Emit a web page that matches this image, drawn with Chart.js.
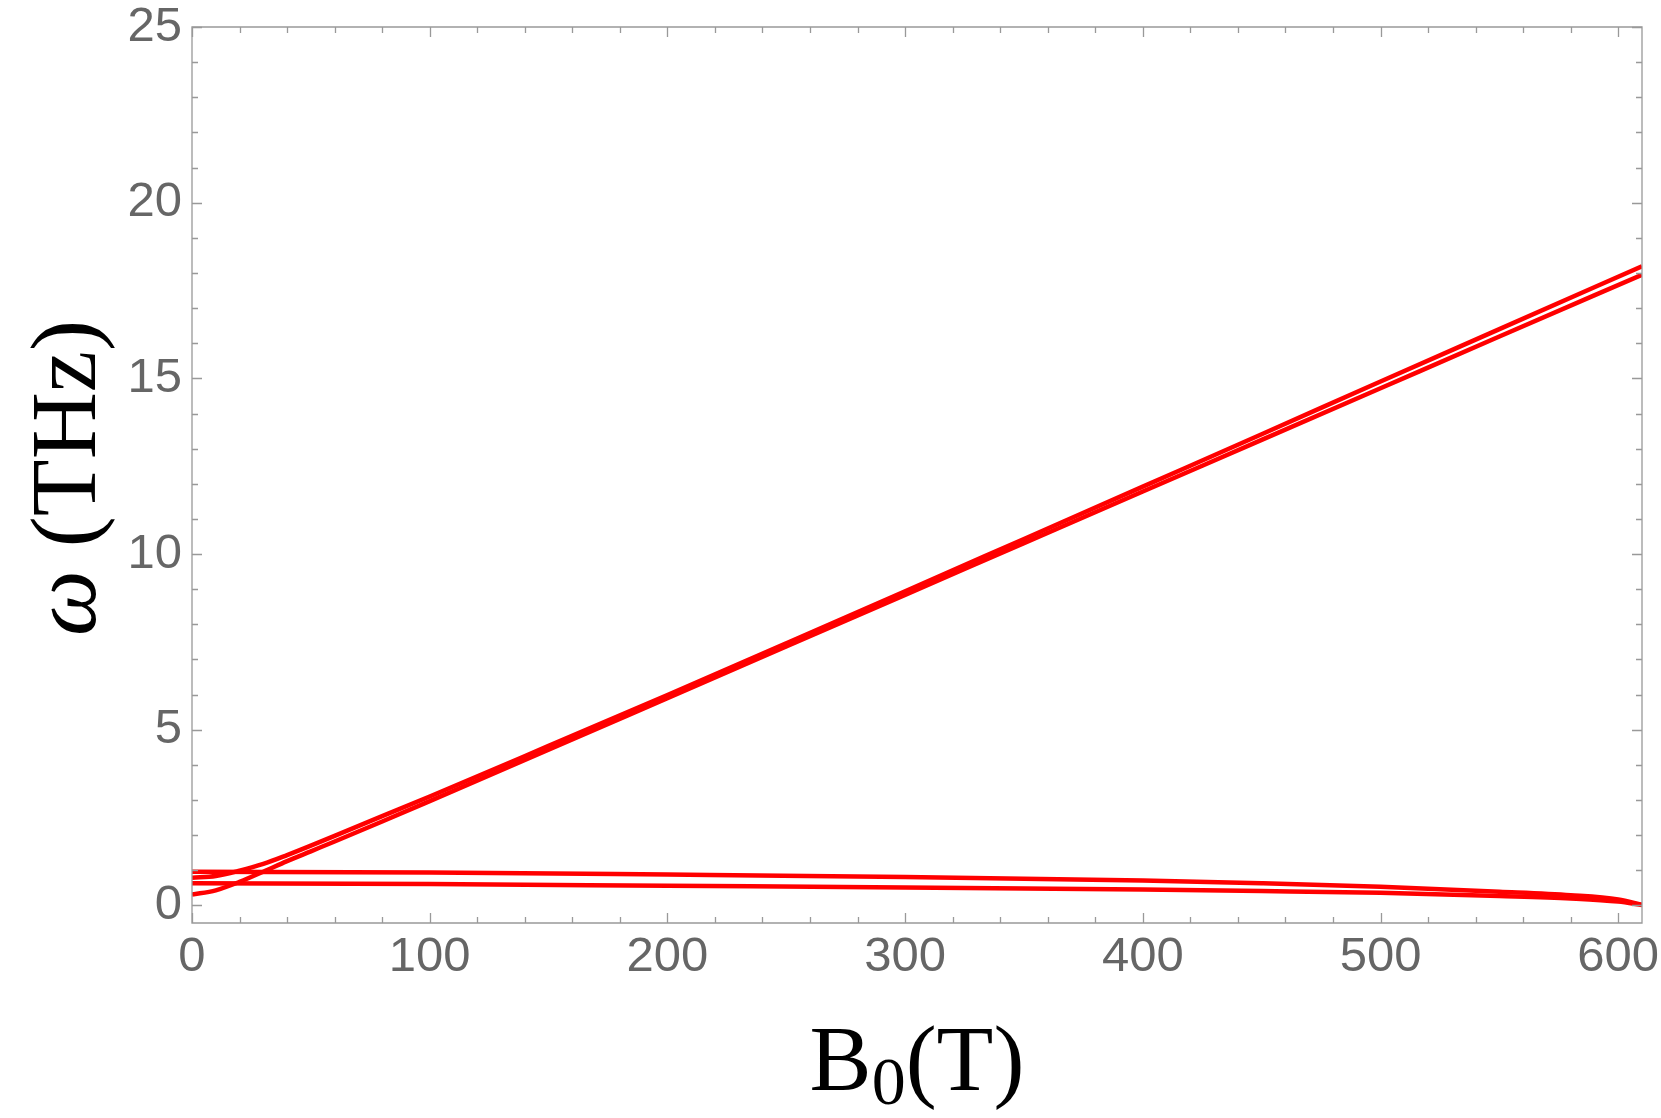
<!DOCTYPE html>
<html>
<head>
<meta charset="utf-8">
<script src="https://cdn.jsdelivr.net/npm/chart.js@4.4.0/dist/chart.umd.min.js"></script>
<style>
  html, body { margin: 0; padding: 0; background: #fff; }
  #wrap { width: 1661px; height: 1118px; }
</style>
</head>
<body>
<div id="wrap"><canvas id="bandChart" width="1661" height="1118"></canvas></div>
<script>
// field values (T) for the two rising branches
const fieldRise = [0, 10, 20, 30, 40, 50, 60, 80, 100, 150, 200, 250, 300, 350, 400, 450, 500, 550, 610];
const upperRise = [0.79, 0.84, 0.99, 1.18, 1.43, 1.70, 1.98, 2.54, 3.10, 4.54, 5.99, 7.46, 8.94, 10.43, 11.92, 13.41, 14.91, 16.40, 18.19];
const lowerRise = [0.31, 0.43, 0.67, 0.96, 1.26, 1.54, 1.82, 2.39, 2.97, 4.43, 5.90, 7.37, 8.84, 10.31, 11.78, 13.25, 14.72, 16.19, 17.95];

// field values (T) for the two flat branches
const fieldFlat = [0, 100, 200, 300, 400, 450, 500, 550, 580, 600, 610];
const upperFlat = [0.96, 0.94, 0.88, 0.81, 0.71, 0.63, 0.53, 0.39, 0.29, 0.17, 0.02];
const lowerFlat = [0.63, 0.61, 0.56, 0.51, 0.45, 0.41, 0.36, 0.27, 0.20, 0.11, 0.01];

// tick labels
const xTicks = [0, 100, 200, 300, 400, 500, 600];
const yTicks = [0, 5, 10, 15, 20, 25];

function pairs(xs, ys) {
    let out = [];
    for (let i in xs) {
        out.push({x: xs[i], y: ys[i]});
    }
    return out;
}

function branch(xs, ys) {
    return {
        data: pairs(xs, ys),
        showLine: true,
        borderColor: '#ff0000',
        borderWidth: 4.5,
        pointRadius: 0,
        cubicInterpolationMode: 'monotone',
        fill: false
    };
}

// frame ticks on all four sides, pointing inwards
const frameTicks = {
    id: 'frameTicks',
    afterDraw(chart) {
        const ctx = chart.ctx;
        const a = chart.chartArea;
        const xs = chart.scales.x;
        const ys = chart.scales.y;
        ctx.save();
        ctx.strokeStyle = '#999';
        ctx.lineWidth = 1.3;
        ctx.beginPath();
        ctx.rect(a.left, a.top, a.right - a.left, a.bottom - a.top);
        ctx.stroke();
        ctx.beginPath();
        for (let v = 0; v <= xs.max; v += 20) {
            const px = Math.round(xs.getPixelForValue(v)) + 0.5;
            const len = (v % 100 === 0) ? 10 : 6;
            ctx.moveTo(px, a.bottom); ctx.lineTo(px, a.bottom - len);
            ctx.moveTo(px, a.top); ctx.lineTo(px, a.top + len);
        }
        for (let v = 0; v <= ys.max; v += 1) {
            const py = Math.round(ys.getPixelForValue(v)) + 0.5;
            const len = (v % 5 === 0) ? 10 : 6;
            ctx.moveTo(a.left, py); ctx.lineTo(a.left + len, py);
            ctx.moveTo(a.right, py); ctx.lineTo(a.right - len, py);
        }
        ctx.stroke();
        ctx.restore();
    }
};

// axis titles: omega (THz) and B_0(T)
const axisTitles = {
    id: 'axisTitles',
    afterDraw(chart) {
        const ctx = chart.ctx;
        const a = chart.chartArea;
        ctx.save();
        ctx.fillStyle = '#000';
        ctx.textBaseline = 'alphabetic';

        // x title
        const big = '93px "Liberation Serif", "Times New Roman", serif';
        const sub = '68px "Liberation Serif", "Times New Roman", serif';
        ctx.font = big;
        const wB = ctx.measureText('B').width;
        const wRest = ctx.measureText('(T)').width;
        ctx.font = sub;
        const w0 = ctx.measureText('0').width;
        let x = (a.left + a.right) / 2 - (wB + w0 + wRest) / 2;
        const base = 1090;
        ctx.font = big;
        ctx.fillText('B', x, base);
        x += wB;
        ctx.font = sub;
        ctx.fillText('0', x, base + 14);
        x += w0;
        ctx.font = big;
        ctx.fillText('(T)', x, base);

        // y title
        ctx.translate(71, 478);
        ctx.rotate(-Math.PI / 2);
        ctx.textBaseline = 'middle';
        const omegaFont = 'italic 93px "Liberation Serif", "Times New Roman", serif';
        ctx.font = omegaFont;
        const wOm = ctx.measureText('\u03C9').width;
        ctx.font = big;
        const wUnit = ctx.measureText(' (THz)').width;
        let y0 = -(wOm + wUnit) / 2;
        ctx.font = omegaFont;
        ctx.fillText('\u03C9', y0, 0);
        ctx.font = big;
        ctx.fillText(' (THz)', y0 + wOm, 0);
        ctx.restore();
    }
};

const ctx = document.getElementById('bandChart');
const myChart = new Chart(ctx, {
    type: 'scatter',
    data: {
        datasets: [
            branch(fieldRise, upperRise),
            branch(fieldRise, lowerRise),
            branch(fieldFlat, upperFlat),
            branch(fieldFlat, lowerFlat)
        ]
    },
    plugins: [frameTicks, axisTitles],
    options: {
        responsive: false,
        animation: false,
        layout: {
            padding: {top: 27, right: 19, left: 0, bottom: 0}
        },
        plugins: {
            legend: {display: false},
            tooltip: {enabled: false}
        },
        scales: {
            x: {
                type: 'linear',
                min: 0,
                max: 610,
                grid: {display: false, drawTicks: false},
                border: {display: false},
                afterBuildTicks: function(scale) {
                    scale.ticks = xTicks.map(function(v) { return {value: v}; });
                },
                afterFit: function(scale) {
                    scale.height = 195;
                    scale.paddingLeft = 0;
                    scale.paddingRight = 0;
                },
                ticks: {
                    color: '#666',
                    padding: 5,
                    maxRotation: 0,
                    font: {family: '"Liberation Sans", Arial, sans-serif', size: 49}
                }
            },
            y: {
                type: 'linear',
                min: -0.5,
                max: 25,
                grid: {display: false, drawTicks: false},
                border: {display: false},
                afterBuildTicks: function(scale) {
                    scale.ticks = yTicks.map(function(v) { return {value: v}; });
                },
                afterFit: function(scale) {
                    scale.width = 192;
                    scale.paddingTop = 0;
                    scale.paddingBottom = 0;
                },
                ticks: {
                    color: '#666',
                    padding: 10,
                    font: {family: '"Liberation Sans", Arial, sans-serif', size: 49}
                }
            }
        }
    }
});
</script>
</body>
</html>
